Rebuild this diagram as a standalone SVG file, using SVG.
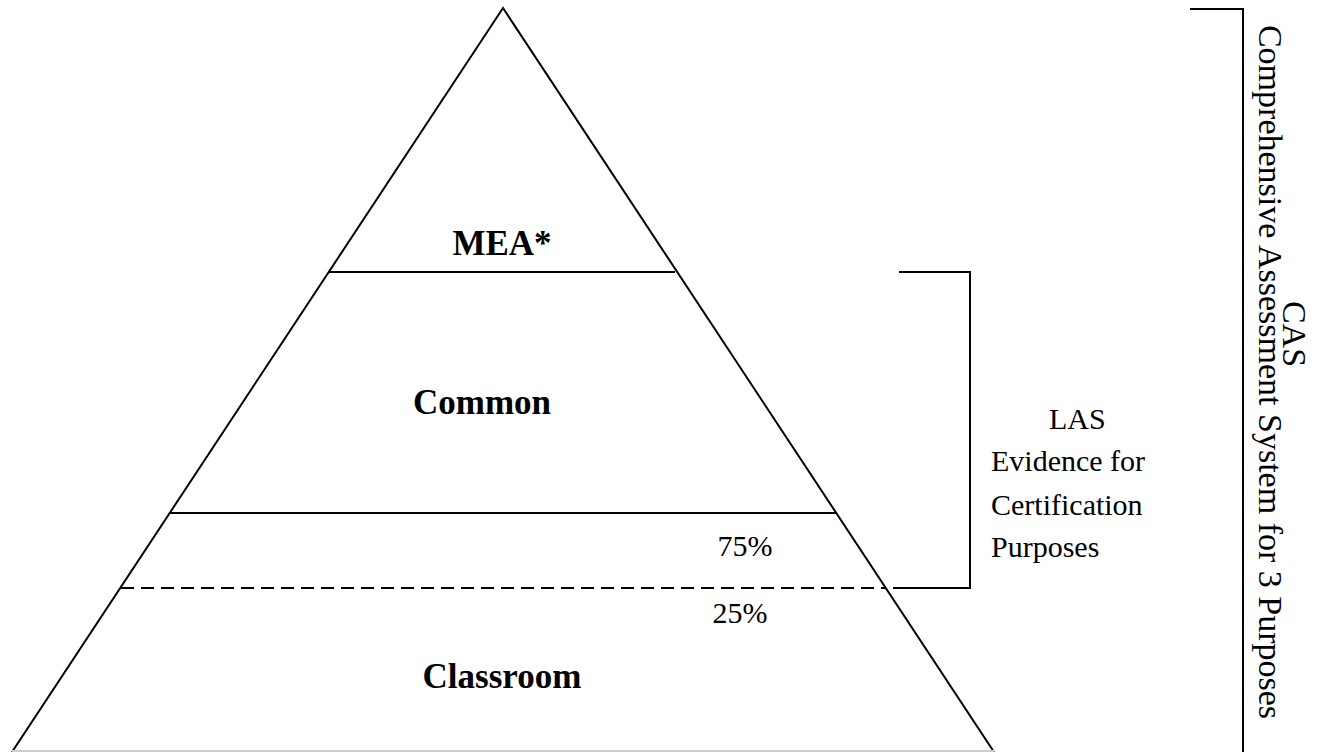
<svg xmlns="http://www.w3.org/2000/svg" width="1343" height="752" viewBox="0 0 1343 752">
<style>
.ln{stroke:#000;stroke-width:2;fill:none}
.t{font-family:"Liberation Serif","Times New Roman",serif;font-size:30px;fill:#000}
.b{font-weight:bold;font-size:35px}
.v{font-size:34px}
</style>
<rect width="1343" height="752" fill="#fff"/>
<g id="pyramid">
<polyline class="ln" points="12,752 503,8 994,752"/>
<line x1="12" y1="751" x2="994" y2="751" stroke="#ccc" stroke-width="2"/>
</g>
<g id="mea">
<line class="ln" x1="328" y1="272" x2="675" y2="272"/>
<text class="t b" x="502" y="255" text-anchor="middle">MEA*</text>
</g>
<g id="common">
<line class="ln" x1="170" y1="513" x2="837" y2="513"/>
<text class="t b" x="482" y="414" text-anchor="middle">Common</text>
<text class="t" x="745" y="556" text-anchor="middle">75%</text>
</g>
<g id="classroom">
<line class="ln" x1="121" y1="588" x2="886" y2="588" stroke-dasharray="13,7"/>
<text class="t" x="740" y="623" text-anchor="middle">25%</text>
<text class="t b" x="502" y="688" text-anchor="middle">Classroom</text>
</g>
<g id="connectors">
<polyline class="ln" points="899,272 970,272 970,588 893,588"/>
<polyline class="ln" points="1190,9 1243,9 1243,752"/>
</g>
<g id="las">
<text class="t" x="1049" y="429">LAS</text>
<text class="t" x="991" y="471">Evidence for</text>
<text class="t" x="991" y="515">Certification</text>
<text class="t" x="991" y="557">Purposes</text>
</g>
<g id="cas">
<text class="t v" transform="translate(1283,334) rotate(90)" text-anchor="middle">CAS</text>
<text class="t v" transform="translate(1259,372) rotate(90)" text-anchor="middle">Comprehensive Assessment System for 3 Purposes</text>
</g>
</svg>
